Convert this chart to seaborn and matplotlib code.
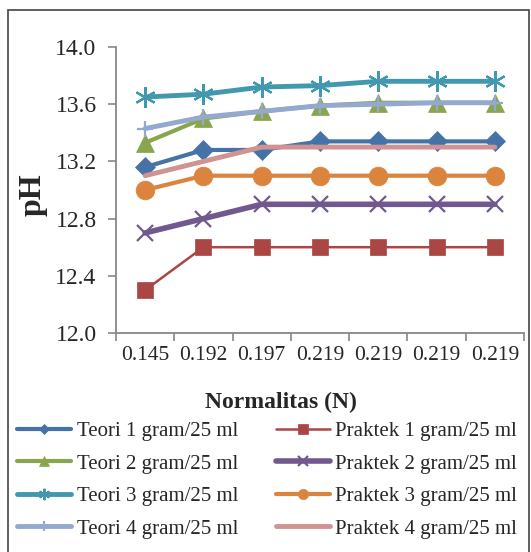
import matplotlib
matplotlib.use("Agg")
import matplotlib.pyplot as plt
import seaborn as sns
import numpy as np
from matplotlib.patches import Rectangle

# data
normalitas = ["0.145", "0.192", "0.197", "0.219", "0.219", "0.219", "0.219"]
teori_1 = [13.16, 13.28, 13.28, 13.34, 13.34, 13.34, 13.34]
praktek_1 = [12.3, 12.6, 12.6, 12.6, 12.6, 12.6, 12.6]
teori_2 = [13.33, 13.50, 13.55, 13.59, 13.61, 13.61, 13.61]
praktek_2 = [12.7, 12.8, 12.9, 12.9, 12.9, 12.9, 12.9]
teori_3 = [13.65, 13.67, 13.72, 13.73, 13.76, 13.76, 13.76]
praktek_3 = [13.0, 13.1, 13.1, 13.1, 13.1, 13.1, 13.1]
teori_4 = [13.43, 13.51, 13.55, 13.59, 13.60, 13.61, 13.61]
praktek_4 = [13.10, 13.20, 13.30, 13.30, 13.30, 13.30, 13.30]

series = [
    ("Teori 1 gram/25 ml", teori_1, "#4572A7", "D", 10, 3.0),
    ("Praktek 1 gram/25 ml", praktek_1, "#AA4643", "s", 12, 1.8),
    ("Teori 2 gram/25 ml", teori_2, "#89A54E", "^", 13, 3.0),
    ("Praktek 2 gram/25 ml", praktek_2, "#71588F", "x", 12, 4.0),
    ("Teori 3 gram/25 ml", teori_3, "#4198AF", (6, 2, 0), 15, 3.5),
    ("Praktek 3 gram/25 ml", praktek_3, "#DB843D", "o", 13.5, 3.0),
    ("Teori 4 gram/25 ml", teori_4, "#93A9CF", "+", 12, 3.5),
    ("Praktek 4 gram/25 ml", praktek_4, "#D19392", None, 0, 3.5),
]

sns.set_theme(style="white")
plt.rcParams["font.family"] = ["Liberation Serif", "DejaVu Serif"]

fig = plt.figure(figsize=(5.31, 5.52), dpi=100)
ax = fig.add_axes([116 / 531, 1 - 333 / 552, 408 / 531, 286 / 552])

pos = np.arange(len(normalitas))
handles = {}
for label, vals, color, mk, ms, lw in series:
    sns.lineplot(x=pos, y=vals, ax=ax, color=color, linewidth=lw,
                 marker=mk, markersize=ms, markeredgecolor=color,
                 markeredgewidth=1.6 if mk in ("x", "+", (6, 2, 0)) else 0.5,
                 label=label, legend=False)
    handles[label] = ax.lines[-1]

ax.set_xlim(-0.5, len(normalitas) - 0.5)
ax.set_ylim(12.0, 14.0)
yt = np.arange(12.0, 14.01, 0.4)
ax.set_yticks(yt)
ax.set_yticklabels([f"{v:.1f}" for v in yt], fontsize=17)
ax.set_xticks(pos)
ax.set_xticklabels(normalitas, fontsize=15.5)
ax.set_xticks(np.arange(-0.5, len(normalitas)), minor=True)
ax.tick_params(axis="x", which="major", bottom=False, length=0, pad=9)
ax.tick_params(axis="x", which="minor", bottom=True, length=6, color="#888888",
               width=1.2, direction="out")
ax.tick_params(axis="y", left=True, length=6, color="#888888", width=1.2,
               direction="out", pad=8)
for s in ["top", "right"]:
    ax.spines[s].set_visible(False)
for s in ["left", "bottom"]:
    ax.spines[s].set_color("#888888")
    ax.spines[s].set_linewidth(1.3)
ax.set_xlabel("")
ax.set_ylabel("")

fig.text(33 / 531, 1 - 195 / 552, "pH", rotation=90, fontsize=23, fontweight="bold",
         ha="center", va="center")
fig.text(281 / 531, 1 - 402 / 552, "Normalitas (N)", fontsize=17, fontweight="bold",
         ha="center", va="center")

order = [s[0] for s in series[0::2]] + [s[0] for s in series[1::2]]
fig.legend([handles[k] for k in order], order, ncol=2, loc="center",
           bbox_to_anchor=(267 / 531, 1 - 480 / 552), frameon=False,
           fontsize=15, handlelength=2.6, handletextpad=0.25,
           columnspacing=1.8, labelspacing=0.62, borderpad=0, markerscale=0.55)

fig.patches.append(Rectangle((8 / 531, -0.05), 521 / 531, 1.05 - 10 / 552,
                             transform=fig.transFigure, fill=False,
                             edgecolor="#444444", linewidth=1.2))

fig.savefig("out.png", dpi=100)
